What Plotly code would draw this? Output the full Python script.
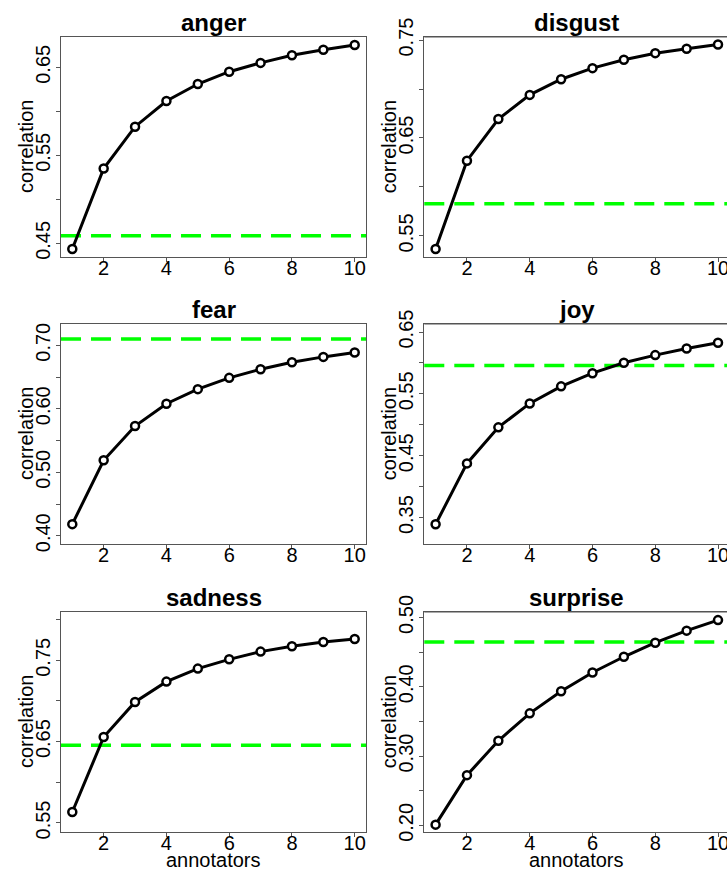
import plotly.graph_objects as go

annotators = [1, 2, 3, 4, 5, 6, 7, 8, 9, 10]

anger = [0.4435, 0.535, 0.5825, 0.6117, 0.631, 0.645, 0.655, 0.6636, 0.670, 0.6753]
disgust = [0.5367, 0.6268, 0.6694, 0.6940, 0.7100, 0.7213, 0.7298, 0.7366, 0.7411, 0.7455]
fear = [0.4183, 0.5188, 0.5728, 0.6079, 0.6309, 0.6487, 0.6623, 0.6733, 0.6817, 0.6885]
joy = [0.3392, 0.4376, 0.4959, 0.5346, 0.5622, 0.5835, 0.6003, 0.6127, 0.6235, 0.6327]
sadness = [0.5635, 0.6557, 0.6988, 0.7238, 0.7398, 0.7512, 0.7607, 0.7672, 0.7725, 0.7762]
surprise = [0.201, 0.2724, 0.322, 0.3616, 0.3935, 0.4205, 0.4432, 0.4635, 0.4809, 0.4961]

baseline = {"anger": 0.4587, "disgust": 0.5828, "fear": 0.7099,
            "joy": 0.5959, "sadness": 0.6455, "surprise": 0.4644}

x_tickvals = [2, 4, 6, 8, 10]
x_ticktext = ["2", "4", "6", "8", "10"]

y_ticks = {
    "anger": ([0.45, 0.50, 0.55, 0.60, 0.65], ["0.45", "", "0.55", "", "0.65"]),
    "disgust": ([0.55, 0.60, 0.65, 0.70, 0.75], ["0.55", "", "0.65", "", "0.75"]),
    "fear": ([0.40, 0.45, 0.50, 0.55, 0.60, 0.65, 0.70], ["0.40", "", "0.50", "", "0.60", "", "0.70"]),
    "joy": ([0.35, 0.40, 0.45, 0.50, 0.55, 0.60, 0.65], ["0.35", "", "0.45", "", "0.55", "", "0.65"]),
    "sadness": ([0.55, 0.60, 0.65, 0.70, 0.75, 0.80], ["0.55", "", "0.65", "", "0.75", ""]),
    "surprise": ([0.20, 0.25, 0.30, 0.35, 0.40, 0.45, 0.50], ["0.20", "", "0.30", "", "0.40", "", "0.50"]),
}

y_ranges = {
    "anger": [0.4345, 0.6844],
    "disgust": [0.5285, 0.7531],
    "fear": [0.387, 0.7335],
    "joy": [0.3073, 0.663],
    "sadness": [0.5389, 0.8094],
    "surprise": [0.1904, 0.5078],
}

series = {"anger": anger, "disgust": disgust, "fear": fear,
          "joy": joy, "sadness": sadness, "surprise": surprise}
order = ["anger", "disgust", "fear", "joy", "sadness", "surprise"]

W, H = 727, 870
FONT = "Liberation Sans, Arial, Helvetica, sans-serif"

# pixel geometry of plot boxes
col_px = [(61, 366), (424.3, 727)]
full_right_px = 729.3  # right column box extends past window
row_px = [(37, 257), (324, 544), (612, 832)]
x_full = [0.64, 10.36]

fig = go.Figure()
layout = dict(template="none", width=W, height=H,
              margin=dict(l=0, r=0, t=0, b=0, autoexpand=False),
              paper_bgcolor="white", plot_bgcolor="white", showlegend=False,
              font=dict(family=FONT, size=20, color="black"))
annotations = []
shapes = []

for i, name in enumerate(order):
    r, c = divmod(i, 2)
    idx = "" if i == 0 else str(i + 1)
    xa, ya = "x" + idx, "y" + idx
    x0p, x1p = col_px[c]
    y0p, y1p = row_px[r]
    box_right = x1p if c == 0 else full_right_px
    box_w = box_right - x0p
    xr = [x_full[0], x_full[0] + (x_full[1] - x_full[0]) * (x1p - x0p) / box_w]

    fig.add_trace(go.Scatter(
        x=annotators, y=series[name], xaxis=xa, yaxis=ya, mode="lines+markers",
        line=dict(color="black", width=3),
        marker=dict(symbol="circle", size=8, color="white",
                    line=dict(color="black", width=2.5)),
        cliponaxis=False, hoverinfo="skip"))

    tv, tt = y_ticks[name]
    layout["xaxis" + idx] = dict(
        domain=[x0p / W, x1p / W], anchor=ya, range=xr, automargin=False,
        tickvals=x_tickvals, ticktext=x_ticktext, ticks="outside", ticklen=4,
        ticklabelstandoff=-11, ticklabeloverflow="allow",
        tickcolor="#555555", showline=True, linecolor="#555555", linewidth=1,
        mirror=True, showgrid=False, zeroline=False,
        tickfont=dict(family=FONT, size=20, color="black"))
    layout["yaxis" + idx] = dict(
        domain=[1 - y1p / H, 1 - y0p / H], anchor=xa, range=y_ranges[name],
        automargin=False, ticklabeloverflow="allow", ticklabelstandoff=-2,
        tickvals=tv, ticktext=tt, ticks="outside", ticklen=4, tickangle=-90,
        tickcolor="#555555", showline=True, linecolor="#555555", linewidth=1,
        mirror=(c == 0), showgrid=False, zeroline=False,
        tickfont=dict(family=FONT, size=20, color="black"))

    shapes.append(dict(type="line", xref=xa + " domain", yref=ya,
                       x0=0, x1=1, y0=baseline[name], y1=baseline[name],
                       line=dict(color="#00FF00", width=3.5, dash="20px,10px"),
                       layer="below"))
    if c == 1:
        shapes.append(dict(type="line", xref="paper", yref="paper",
                           x0=x0p / W, x1=1, y0=1 - y0p / H, y1=1 - y0p / H,
                           line=dict(color="#555555", width=1)))

    # panel title
    annotations.append(dict(text="<b>" + name + "</b>", xref="paper", yref="paper",
                            x=(x0p + box_right) / 2 / W, y=1 - (y0p + 1) / H,
                            xanchor="center", yanchor="bottom", showarrow=False,
                            font=dict(family=FONT, size=24, color="black")))
    # y title
    annotations.append(dict(text="correlation", xref="paper", yref="paper",
                            x=(x0p - 35) / W, y=1 - (y0p + y1p) / 2 / H,
                            xanchor="center", yanchor="middle", textangle=-90,
                            showarrow=False,
                            font=dict(family=FONT, size=20, color="black")))
    if r == 2:
        annotations.append(dict(text="annotators", xref="paper", yref="paper",
                                x=(x0p + box_right) / 2 / W, y=1 - (y1p + 28) / H,
                                xanchor="center", yanchor="middle", showarrow=False,
                                font=dict(family=FONT, size=20, color="black")))

layout["annotations"] = annotations
layout["shapes"] = shapes
fig.update_layout(**layout)
fig.write_html("out.html")
